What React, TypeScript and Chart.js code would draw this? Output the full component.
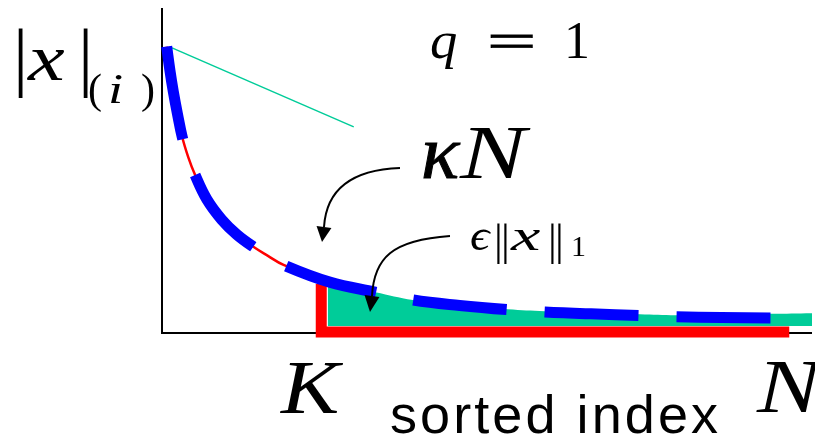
import React, { useEffect, useRef } from "react";
import { Chart, registerables } from "chart.js";

Chart.register(...registerables);

// Sorted magnitudes |x|_(i) against their sorted index (N = 100)
const sortedIndex = [0.72, 1.23, 1.74, 2.38, 3.12, 4.05, 5.08, 6.88, 9.18, 11.5, 14.05, 16.3, 18.7, 25.8, 32.8, 38.6, 45.8, 53.2, 58.9, 66.0, 73.5, 79.1, 86.0, 93.7];
const magnitude = [88.1, 80.6, 74.2, 67.3, 60.1, 53.9, 48.5, 41.0, 34.7, 30.1, 26.3, 23.5, 20.7, 15.4, 12.3, 9.9, 8.2, 6.9, 6.2, 5.6, 5.1, 4.7, 4.45, 4.3];

// Head of the curve traced by the thin red line
const headIndex = [0.72, 1.23, 1.74, 2.38, 3.12, 4.05, 5.08, 6.88, 9.18, 11.5, 14.05, 16.3, 18.7, 25.8, 32.8];
const headMagnitude = [88.1, 80.6, 74.2, 67.3, 60.1, 53.9, 48.5, 41.0, 34.7, 30.1, 26.3, 23.5, 20.7, 15.4, 12.3];

// Tail mass beyond K (shaded), running out to N
const tailIndex = [25.5, 32.8, 38.6, 45.8, 53.2, 58.9, 66.0, 73.5, 79.1, 86.0, 93.7, 100];
const tailMagnitude = [15.2, 12.3, 9.9, 8.3, 7.0, 6.4, 5.9, 5.5, 5.2, 5.3, 5.6, 5.8];
const tailFloor = 1.85;

// Sparsity level K and the K-term boundary
const K = 24.5;
const kBoundaryTop = 14.8;
const kBoundaryEnd = 96.5;

// Reference slope line for kappa N
const slopeIndex = [1.54, 29.5];
const slopeMagnitude = [87.7, 63.3];

const X_MAX = 100;
const Y_MAX = 100;

const SERIF = '"Liberation Serif", "DejaVu Serif", serif';
const SANS = '"Liberation Sans", Arial, sans-serif';

function pts(xs: number[], ys: number[]) {
  return xs.map((x, i) => ({ x, y: ys[i] }));
}

function arrow(
  ctx: CanvasRenderingContext2D,
  p0: [number, number],
  c1: [number, number],
  c2: [number, number],
  p1: [number, number],
  tip: [number, number]
) {
  ctx.save();
  ctx.strokeStyle = "#000";
  ctx.fillStyle = "#000";
  ctx.lineWidth = 2;
  ctx.beginPath();
  ctx.moveTo(p0[0], p0[1]);
  ctx.bezierCurveTo(c1[0], c1[1], c2[0], c2[1], p1[0], p1[1]);
  ctx.stroke();
  // arrow head: base centred at p1, pointing to tip
  const dx = tip[0] - p1[0];
  const dy = tip[1] - p1[1];
  const len = Math.hypot(dx, dy);
  const nx = -dy / len;
  const ny = dx / len;
  const half = 7.5;
  ctx.beginPath();
  ctx.moveTo(tip[0], tip[1]);
  ctx.lineTo(p1[0] + nx * half, p1[1] + ny * half);
  ctx.lineTo(p1[0] - nx * half, p1[1] - ny * half);
  ctx.closePath();
  ctx.fill();
  ctx.restore();
}

function txt(
  ctx: CanvasRenderingContext2D,
  s: string,
  x: number,
  y: number,
  font: string,
  sx = 1,
  bold = 0
) {
  ctx.save();
  ctx.font = font;
  ctx.fillStyle = "#000";
  ctx.textAlign = "left";
  ctx.textBaseline = "alphabetic";
  ctx.translate(x, y);
  ctx.scale(sx, 1);
  ctx.fillText(s, 0, 0);
  if (bold > 0) {
    ctx.strokeStyle = "#000";
    ctx.lineWidth = bold;
    ctx.strokeText(s, 0, 0);
  }
  ctx.restore();
}

const axesPlugin = {
  id: "axesLines",
  beforeDatasetsDraw(chart: any) {
    const { ctx } = chart;
    const xs = chart.scales.x;
    const ys = chart.scales.y;
    const x0 = xs.getPixelForValue(0);
    const y0 = ys.getPixelForValue(0);
    ctx.save();
    ctx.strokeStyle = "#000";
    ctx.lineWidth = 2;
    ctx.beginPath();
    ctx.moveTo(x0, ys.getPixelForValue(Y_MAX));
    ctx.lineTo(x0, y0 + 1);
    ctx.lineTo(xs.getPixelForValue(X_MAX), y0 + 1);
    ctx.stroke();
    ctx.restore();
  },
};

const labelsPlugin = {
  id: "labels",
  afterDatasetsDraw(chart: any) {
    const { ctx } = chart;

    // |x|_(i)
    txt(ctx, "|", 13, 82, `76px ${SERIF}`);
    txt(ctx, "x", 28, 80, `italic 66px ${SERIF}`, 1.25);
    txt(ctx, "|", 78, 82, `76px ${SERIF}`);
    txt(ctx, "(", 88, 103, `42px ${SERIF}`);
    txt(ctx, "i", 108, 103, `italic 42px ${SERIF}`, 1.3);
    txt(ctx, ")", 141, 103, `42px ${SERIF}`);

    // q = 1
    txt(ctx, "q", 430, 58, `italic 52px ${SERIF}`, 1.05);
    txt(ctx, "=", 487, 58, `50px ${SERIF}`, 1.75, 0.8);
    txt(ctx, "1", 564, 58, `52px ${SERIF}`);

    // kappa N
    txt(ctx, "κ", 421, 178, `italic 76px ${SERIF}`, 1.05, 1);
    txt(ctx, "N", 460, 178, `italic 76px ${SERIF}`, 1.3);

    // eps ||x||_1
    txt(ctx, "ϵ", 470, 250, `italic 44px ${SERIF}`, 1.1);
    txt(ctx, "|", 494, 255, `44px ${SERIF}`);
    txt(ctx, "|", 501, 255, `44px ${SERIF}`);
    txt(ctx, "x", 511, 250, `italic 44px ${SERIF}`, 1.5);
    txt(ctx, "|", 548, 255, `44px ${SERIF}`);
    txt(ctx, "|", 555, 255, `44px ${SERIF}`);
    txt(ctx, "1", 571, 256, `30px ${SERIF}`);

    // K, N and axis title
    txt(ctx, "K", 281, 413, `italic 76px ${SERIF}`, 1.15);
    txt(ctx, "N", 757, 412, `italic 76px ${SERIF}`, 1.25);

    ctx.save();
    ctx.font = `54px ${SANS}`;
    const w = ctx.measureText("sorted index").width;
    const target = 328;
    (ctx as any).letterSpacing = `${(target - w) / 11}px`;
    ctx.fillStyle = "#000";
    ctx.textBaseline = "alphabetic";
    ctx.fillText("sorted index", 390, 433);
    ctx.restore();

    // annotation arrows
    arrow(ctx, [400, 168], [345, 170], [326, 195], [324, 227], [322, 242]);
    arrow(ctx, [450, 236], [392, 240], [374, 258], [372, 296], [370, 312]);
  },
};

export default function App() {
  const ref = useRef<HTMLCanvasElement | null>(null);

  useEffect(() => {
    const prevMargin = document.body.style.margin;
    document.body.style.margin = "0";
    const canvas = ref.current;
    if (!canvas) return;
    const chart = new Chart(canvas, {
      type: "line",
      data: {
        datasets: [
          {
            label: "sorted magnitudes",
            data: pts(sortedIndex, magnitude),
            borderColor: "#0000ff",
            borderWidth: 11,
            borderDash: [94, 38],
            borderCapStyle: "butt",
            tension: 0.4,
            pointRadius: 0,
            fill: false,
            clip: false,
          },
          {
            label: "best K-term",
            data: [
              { x: K, y: kBoundaryTop },
              { x: K, y: 0 },
              { x: kBoundaryEnd, y: 0 },
            ],
            borderColor: "#ff0000",
            borderWidth: 11,
            borderJoinStyle: "miter",
            borderCapStyle: "butt",
            pointRadius: 0,
            fill: false,
            clip: false,
          },
          {
            label: "tail",
            data: pts(tailIndex, tailMagnitude),
            borderColor: "rgba(0,0,0,0)",
            borderWidth: 1,
            backgroundColor: "#00cc99",
            tension: 0.4,
            pointRadius: 0,
            fill: { value: tailFloor },
            clip: false,
          },
          {
            label: "head",
            data: pts(headIndex, headMagnitude),
            borderColor: "#ff0000",
            borderWidth: 2.5,
            tension: 0.4,
            pointRadius: 0,
            fill: false,
            clip: false,
          },
          {
            label: "slope",
            data: pts(slopeIndex, slopeMagnitude),
            borderColor: "#00cc99",
            borderWidth: 1.5,
            pointRadius: 0,
            fill: false,
            clip: false,
          },
        ],
      },
      options: {
        responsive: false,
        animation: false,
        events: [],
        layout: { padding: { left: 162, right: 3, top: 8, bottom: 104 } },
        plugins: {
          legend: { display: false },
          tooltip: { enabled: false },
          title: { display: false },
        },
        scales: {
          x: { type: "linear", min: 0, max: X_MAX, display: false },
          y: { type: "linear", min: 0, max: Y_MAX, display: false },
        },
      },
      plugins: [axesPlugin, labelsPlugin],
    });
    return () => {
      chart.destroy();
      document.body.style.margin = prevMargin;
    };
  }, []);

  return (
    <div style={{ position: "fixed", left: 0, top: 0, width: 815, height: 436, background: "#fff" }}>
      <canvas ref={ref} width={815} height={436} style={{ display: "block" }} />
    </div>
  );
}
